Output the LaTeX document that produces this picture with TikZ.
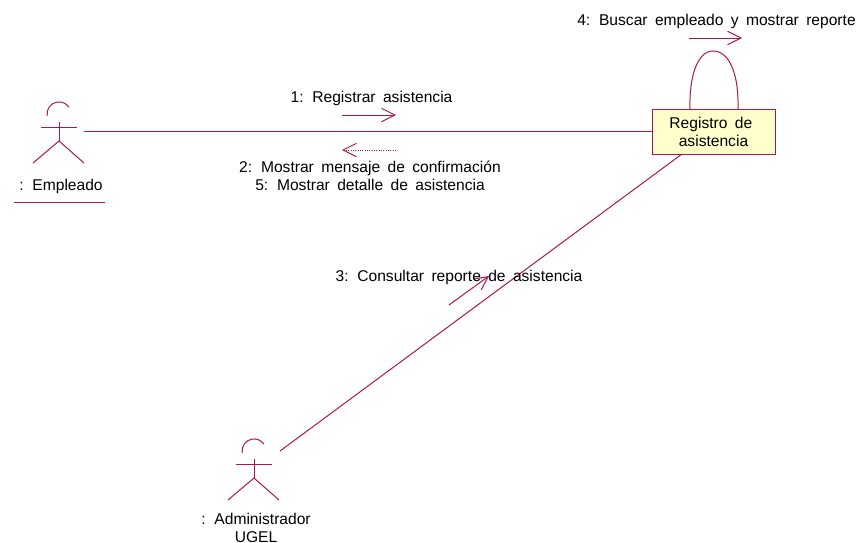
\documentclass[tikz,border=0pt]{standalone}
\usepackage{fontspec}
\setmainfont[WordSpace=1.7]{Liberation Sans}
\usetikzlibrary{arrows.meta}
\definecolor{umlline}{HTML}{A8174F}
\definecolor{umlfill}{HTML}{FFFFCC}
\tikzset{
    umlwire/.style={draw=umlline,line width=.75pt},
    msgarrow/.style={umlwire,-{Straight Barb[length=10pt,width=10pt]}},
    label/.style={font=\fontsize{11.7}{13.5}\selectfont,text=black,inner sep=0pt,align=center},
    actor/.pic={
        \draw[umlwire] (-11.8,-11) arc[start angle=170,end angle=325,radius=12];
        \draw[umlwire] (-18,0) -- (18,0);
        \draw[umlwire] (0,-5) -- (0,14);
        \draw[umlwire] (-26,36) -- (0,14) -- (25,36);
    }
}
\begin{document}
\begin{tikzpicture}[x=.75pt,y=-.75pt]
\useasboundingbox (0,0) rectangle (858,543);

% Actors
\pic at (59,127) {actor};
\pic at (254,464) {actor};
\node[label] (Empleado) at (61,186) {: Empleado};
\node[label] (Admin) at (256,527.5) {: Administrador\\UGEL};
\draw[umlwire] (13.5,202) coordinate (EmpA) -- (105,202) coordinate (EmpB);

% Object
\node[umlwire,fill=umlfill,minimum width=92.25pt,minimum height=33.75pt,
    label,align=center,draw=umlline] (Registro) at (713.5,131.5) {Registro de\hspace*{4pt}\\asistencia};

% Links
\coordinate (EmpEnd) at (84,131.5);
\coordinate (AdmEnd) at (280,451);
\coordinate (RegS) at (682,154);
\coordinate (RegA) at (690,109);
\coordinate (RegB) at (738,109);
\draw[umlwire] (EmpEnd) -- (Registro.west);
\draw[umlwire] (AdmEnd) -- (RegS);
\draw[umlwire] (RegA) .. controls (689,78) and (697,51) .. (713,51)
    .. controls (731,51) and (739,78) .. (RegB);

% Messages
\coordinate (M1a) at (342,115);
\coordinate (M1b) at (396,115);
\coordinate (M2a) at (396,150);
\coordinate (M2b) at (342,150);
\coordinate (M3a) at (449,305);
\coordinate (M3b) at (489,276);
\coordinate (M4a) at (689,38);
\coordinate (M4b) at (742,38);
\draw[msgarrow] (M1a) -- (M1b);
\draw[msgarrow,densely dotted] (M2a) -- (M2b);
\draw[msgarrow] (M3a) -- (M3b);
\draw[msgarrow] (M4a) -- (M4b);
\node[label] (L1) at (371.5,98) {1: Registrar asistencia};
\node[label] (L2) at (370,176) {2: Mostrar mensaje de confirmación\\5: Mostrar detalle de asistencia};
\node[label] (L3) at (459,277) {3: Consultar reporte de asistencia};
\node[label] (L4) at (716.5,21) {4: Buscar empleado y mostrar reporte};
\end{tikzpicture}
\end{document}
